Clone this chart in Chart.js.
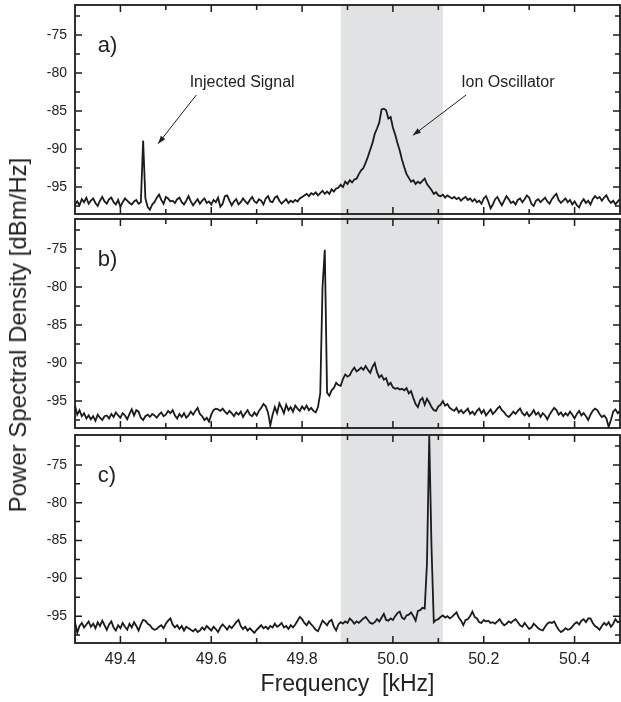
<!DOCTYPE html>
<html>
<head>
<meta charset="utf-8">
<script src="https://cdn.jsdelivr.net/npm/chart.js@4.4.1/dist/chart.umd.min.js"></script>
<style>
  body { margin: 0; background: #fff; }
  #wrap { position: relative; width: 621px; height: 702px; }
  canvas { position: absolute; left: 0; }
  #ytitle {
    position: absolute; left: 18px; top: 335px;
    transform: translate(-50%, -50%) rotate(-90deg);
    font: 24px "Liberation Sans", Arial, sans-serif; line-height: 24px;
    color: #222; white-space: nowrap;
  }
</style>
</head>
<body>
<div id="wrap">
  <canvas id="ca" width="621" height="217" style="top:0"></canvas>
  <canvas id="cb" width="621" height="215" style="top:217px"></canvas>
  <canvas id="cc" width="621" height="270" style="top:432px"></canvas>
  <div id="ytitle">Power Spectral Density [dBm/Hz]</div>
</div>
<script>
// spectra sampled every 5 Hz from 49.300 kHz
const FREQ_START = 49.3;
const FREQ_STEP = 0.005;

const psdA = [
  -97.3,-96.9,-97.4,-96.6,-97.0,-96.4,-97.2,-96.8,-96.5,-97.1,
  -97.5,-96.8,-96.3,-96.9,-97.2,-96.6,-96.4,-97.0,-97.3,-96.7,
  -97.6,-97.0,-96.5,-96.8,-97.1,-97.3,-96.9,-96.7,-97.2,-97.0,
  -88.9,-96.5,-97.6,-98.0,-97.3,-97.0,-96.4,-96.0,-96.7,-97.2,
  -96.3,-96.5,-96.9,-96.8,-97.1,-96.6,-96.4,-97.0,-97.3,-96.8,
  -96.2,-96.9,-97.4,-97.0,-96.6,-97.2,-96.8,-96.5,-97.1,-96.9,
  -97.3,-96.7,-97.0,-96.4,-97.6,-97.2,-96.2,-96.1,-96.8,-97.4,
  -96.9,-96.6,-97.3,-97.0,-96.5,-96.9,-97.2,-96.7,-96.3,-96.9,
  -97.1,-96.6,-96.8,-97.3,-96.5,-96.2,-96.9,-97.0,-96.4,-96.2,
  -96.8,-97.2,-96.9,-96.6,-97.1,-96.8,-97.0,-96.7,-96.9,-96.5,
  -96.3,-96.1,-95.9,-96.2,-95.8,-96.0,-95.7,-96.1,-95.8,-95.5,
  -95.9,-95.6,-95.9,-95.3,-95.6,-95.2,-95.1,-94.7,-95.0,-94.3,
  -94.6,-94.1,-94.4,-94.0,-93.9,-93.3,-92.8,-92.5,-91.8,-91.0,
  -90.1,-89.2,-88.0,-87.3,-86.5,-84.8,-84.7,-84.9,-86.0,-85.8,
  -87.2,-88.1,-89.2,-90.2,-91.4,-92.4,-93.3,-93.8,-94.3,-94.1,
  -94.6,-94.3,-94.5,-94.2,-93.9,-94.6,-95.0,-95.4,-95.9,-95.7,
  -96.1,-96.2,-96.0,-96.4,-96.1,-96.3,-96.5,-96.3,-96.6,-96.4,
  -96.8,-96.5,-96.3,-96.7,-96.5,-96.9,-96.6,-97.0,-96.8,-97.2,
  -96.5,-96.2,-96.9,-97.8,-97.3,-96.6,-96.3,-96.9,-97.4,-96.8,
  -96.2,-96.6,-97.1,-96.9,-97.3,-96.7,-96.5,-97.0,-96.6,-96.1,
  -96.4,-97.2,-97.5,-96.8,-96.6,-97.0,-96.7,-96.4,-96.9,-97.2,
  -96.6,-96.2,-95.9,-96.7,-97.1,-96.8,-96.5,-97.0,-96.7,-97.3,
  -96.9,-97.4,-97.7,-97.0,-96.6,-97.1,-96.8,-97.3,-96.6,-96.2,
  -96.5,-96.3,-96.8,-96.4,-96.1,-96.7,-97.1,-96.8,-97.3,-96.9,
  -96.6
];

const psdB = [
  -95.6,-96.8,-96.2,-97.0,-96.6,-97.3,-96.9,-97.4,-97.0,-97.6,
  -96.8,-97.2,-97.5,-97.0,-96.9,-97.3,-96.7,-97.1,-96.5,-96.9,
  -97.2,-96.6,-96.9,-97.4,-96.7,-96.1,-96.9,-96.2,-96.4,-97.2,
  -97.5,-97.0,-96.8,-97.1,-96.7,-96.9,-97.2,-96.8,-96.5,-97.0,
  -96.8,-96.3,-96.6,-96.2,-96.9,-97.3,-96.7,-97.1,-96.6,-97.2,
  -96.9,-96.4,-96.8,-96.3,-95.9,-96.7,-97.0,-97.5,-97.2,-97.7,
  -96.8,-96.2,-96.0,-96.1,-96.3,-96.0,-96.4,-96.7,-96.3,-96.6,
  -97.0,-96.5,-96.8,-96.4,-97.1,-96.6,-96.2,-96.8,-97.0,-96.5,
  -96.9,-96.3,-95.9,-95.4,-95.7,-96.5,-98.2,-96.8,-95.8,-96.6,
  -95.3,-95.9,-96.6,-95.5,-96.2,-95.8,-96.4,-95.6,-96.0,-96.3,
  -95.7,-96.1,-95.6,-96.2,-95.9,-96.3,-96.5,-95.8,-94.0,-80.0,
  -75.1,-93.9,-94.3,-93.6,-93.3,-92.6,-92.9,-93.0,-92.1,-91.5,
  -91.8,-91.6,-91.0,-90.6,-91.1,-90.9,-90.6,-90.9,-90.4,-90.9,
  -91.3,-90.5,-90.0,-91.2,-91.9,-91.6,-92.2,-92.0,-92.9,-92.6,
  -93.2,-93.4,-93.3,-93.5,-93.4,-93.6,-93.3,-94.0,-93.7,-94.6,
  -95.4,-95.8,-94.9,-94.6,-95.5,-94.7,-95.2,-95.8,-96.2,-96.3,
  -95.7,-95.5,-95.0,-95.6,-95.4,-95.9,-96.1,-96.3,-95.9,-96.5,
  -96.2,-96.6,-96.3,-96.0,-96.7,-96.4,-96.8,-96.3,-96.0,-96.6,
  -96.2,-96.9,-96.5,-96.1,-96.7,-96.4,-96.0,-95.7,-96.2,-96.5,
  -96.9,-97.1,-96.8,-96.4,-96.7,-96.3,-96.0,-96.6,-96.9,-96.5,
  -97.0,-96.7,-96.2,-96.8,-96.5,-97.1,-96.6,-96.9,-97.4,-96.8,
  -96.3,-95.9,-96.2,-96.8,-96.5,-97.0,-96.6,-96.9,-96.4,-96.8,
  -97.3,-96.7,-96.3,-96.9,-96.6,-97.0,-97.5,-96.8,-96.3,-96.0,
  -96.2,-96.7,-97.1,-96.9,-97.3,-98.4,-97.5,-96.4,-96.1,-96.6,
  -96.3
];

const psdC = [
  -95.8,-97.2,-96.3,-95.9,-96.5,-96.1,-95.7,-96.4,-96.0,-96.6,
  -95.8,-96.3,-95.6,-96.2,-96.8,-96.1,-95.7,-96.5,-96.9,-96.2,
  -96.6,-95.9,-96.4,-96.8,-96.0,-96.5,-95.8,-96.3,-96.9,-96.1,
  -95.5,-95.6,-96.0,-96.2,-96.6,-96.8,-96.7,-96.4,-96.2,-96.6,
  -96.0,-95.6,-95.3,-96.1,-96.5,-96.2,-96.7,-96.3,-96.9,-96.4,
  -96.6,-96.8,-97.0,-96.7,-97.1,-96.9,-96.5,-96.8,-96.3,-96.6,
  -96.9,-96.4,-96.7,-97.1,-96.5,-96.1,-96.4,-96.8,-96.3,-96.6,
  -96.2,-95.8,-95.5,-96.3,-96.7,-96.4,-96.9,-96.6,-96.9,-97.2,
  -96.8,-96.5,-96.2,-96.6,-96.4,-96.7,-96.3,-96.5,-96.0,-96.4,
  -96.2,-95.9,-96.5,-96.3,-96.7,-96.2,-96.5,-96.1,-95.6,-95.1,
  -95.4,-95.9,-96.2,-95.7,-96.1,-96.4,-96.8,-97.0,-96.3,-95.6,
  -95.9,-96.2,-95.7,-95.5,-96.4,-96.9,-96.1,-95.8,-96.0,-95.7,
  -95.9,-95.3,-95.6,-96.0,-95.7,-95.9,-95.6,-95.3,-95.1,-95.5,
  -95.9,-96.0,-95.8,-95.4,-95.7,-95.2,-94.7,-95.5,-95.6,-95.3,
  -95.5,-95.0,-94.6,-94.4,-95.2,-95.4,-94.9,-94.8,-94.5,-95.0,
  -95.6,-94.3,-94.2,-93.9,-94.0,-88.0,-71.2,-86.0,-95.8,-95.5,
  -95.4,-95.1,-94.9,-95.2,-95.0,-95.3,-95.1,-94.8,-94.5,-95.2,
  -95.6,-96.2,-95.5,-95.4,-95.0,-94.4,-95.1,-95.3,-95.8,-95.9,
  -95.5,-95.7,-95.6,-95.9,-95.8,-96.0,-95.7,-95.4,-95.9,-96.2,
  -96.0,-95.7,-95.9,-95.6,-95.4,-95.8,-96.2,-96.4,-95.9,-96.3,
  -96.7,-96.5,-96.0,-96.3,-96.6,-96.8,-96.9,-96.4,-96.0,-95.8,
  -95.9,-95.7,-96.3,-96.8,-97.1,-96.9,-96.6,-96.8,-96.7,-96.4,
  -96.0,-95.8,-96.1,-95.6,-95.4,-95.8,-95.3,-95.3,-95.9,-96.3,
  -96.5,-96.8,-96.3,-95.9,-96.2,-95.8,-96.4,-96.0,-95.4,-95.8,
  -95.7
];

const freq = psdA.map((_, i) => +(FREQ_START + i * FREQ_STEP).toFixed(3));

const xRange = [49.3, 50.5];
const yRange = [-98.55, -71.05];
const xMajor = [49.4, 49.6, 49.8, 50.0, 50.2, 50.4];
const xMinor = [49.5, 49.7, 49.9, 50.1, 50.3];
const yMajor = [-95, -90, -85, -80, -75];
const yMinor = [-97.5, -92.5, -87.5, -82.5, -77.5, -72.5];
const band = [49.885, 50.11];          // shaded window, kHz
const panelLabels = ['a)', 'b)', 'c)'];
const notes = [
  { text: 'Injected Signal', x: 49.668, y: -81.8, from: [49.567, -82.9], to: [49.483, -89.3] },
  { text: 'Ion Oscillator',  x: 50.253, y: -81.8, from: [50.161, -82.9], to: [50.044, -88.2] }
];

const FONT = '"Liberation Sans", Arial, sans-serif';
const INK = '#1b1b1b';
const pads = [
  { top: 5, bottom: 3, left: 0, right: 1 },
  { top: 2, bottom: 4, left: 0, right: 1 },
  { top: 3, bottom: 0, left: 0, right: 1 }
];

function panelPlugin(idx) {
  return {
    id: 'panel' + idx,
    beforeDatasetsDraw(chart) {
      const { ctx, chartArea: a, scales: { x } } = chart;
      const top = idx === 0 ? a.top : 0;
      const bottom = idx === 2 ? a.bottom : chart.height;
      const x0 = x.getPixelForValue(band[0]);
      const x1 = x.getPixelForValue(band[1]);
      ctx.save();
      ctx.fillStyle = '#e1e2e4';
      ctx.fillRect(x0, top, x1 - x0, bottom - top);
      ctx.restore();
    },
    afterDraw(chart) {
      const { ctx, chartArea: a, scales: { x, y } } = chart;
      ctx.save();
      ctx.strokeStyle = INK;
      ctx.lineWidth = 1.8;
      ctx.strokeRect(a.left, a.top, a.right - a.left, a.bottom - a.top);

      // inward tick marks on all four sides
      ctx.lineWidth = 1.5;
      ctx.beginPath();
      const xt = (v, len) => {
        const p = x.getPixelForValue(v);
        ctx.moveTo(p, a.bottom); ctx.lineTo(p, a.bottom - len);
        ctx.moveTo(p, a.top); ctx.lineTo(p, a.top + len);
      };
      const yt = (v, len) => {
        const p = y.getPixelForValue(v);
        ctx.moveTo(a.left, p); ctx.lineTo(a.left + len, p);
        ctx.moveTo(a.right, p); ctx.lineTo(a.right - len, p);
      };
      xMajor.forEach(v => xt(v, 7));
      xMinor.forEach(v => xt(v, 5));
      yMajor.forEach(v => yt(v, 7));
      yMinor.forEach(v => yt(v, 5));
      ctx.stroke();

      ctx.fillStyle = '#222';
      ctx.font = '22px ' + FONT;
      ctx.textAlign = 'left';
      ctx.textBaseline = 'alphabetic';
      ctx.fillText(panelLabels[idx], x.getPixelForValue(49.35), y.getPixelForValue(-77.2));

      if (idx === 0) {
        ctx.font = '16px ' + FONT;
        ctx.textAlign = 'center';
        ctx.lineWidth = 1;
        notes.forEach(n => {
          ctx.fillText(n.text, x.getPixelForValue(n.x), y.getPixelForValue(n.y));
          const fx = x.getPixelForValue(n.from[0]), fy = y.getPixelForValue(n.from[1]);
          const tx = x.getPixelForValue(n.to[0]), ty = y.getPixelForValue(n.to[1]);
          ctx.beginPath();
          ctx.moveTo(fx, fy); ctx.lineTo(tx, ty);
          ctx.stroke();
          const ang = Math.atan2(ty - fy, tx - fx);
          ctx.beginPath();
          ctx.moveTo(tx, ty);
          ctx.lineTo(tx - 8 * Math.cos(ang) + 2.8 * Math.sin(ang), ty - 8 * Math.sin(ang) - 2.8 * Math.cos(ang));
          ctx.lineTo(tx - 8 * Math.cos(ang) - 2.8 * Math.sin(ang), ty - 8 * Math.sin(ang) + 2.8 * Math.cos(ang));
          ctx.closePath();
          ctx.fill();
        });
      }
      ctx.restore();
    }
  };
}

function makeChart(id, values, idx) {
  const last = idx === 2;
  return new Chart(document.getElementById(id), {
    type: 'line',
    data: {
      labels: freq,
      datasets: [{
        data: values,
        borderColor: INK,
        borderWidth: 1.8,
        pointRadius: 0,
        tension: 0,
        fill: false
      }]
    },
    options: {
      responsive: false,
      animation: false,
      layout: { padding: pads[idx] },
      plugins: { legend: { display: false }, tooltip: { enabled: false } },
      scales: {
        x: {
          type: 'linear',
          min: xRange[0],
          max: xRange[1],
          display: last,
          afterBuildTicks: s => { s.ticks = [...xMajor, ...xMinor].sort((a, b) => a - b).map(v => ({ value: v })); },
          afterFit: s => { s.height = last ? 59 : 0; s.paddingLeft = 0; s.paddingRight = 0; },
          grid: { display: false, drawTicks: false },
          border: { display: false },
          ticks: {
            autoSkip: false, maxRotation: 0, padding: 7,
            color: '#222', font: { family: FONT, size: 16 },
            callback: v => xMajor.includes(v) ? v.toFixed(1) : ''
          },
          title: {
            display: last, text: 'Frequency  [kHz]',
            color: '#222', font: { family: FONT, size: 23 },
            padding: { top: 2, bottom: 4 }
          }
        },
        y: {
          min: yRange[0],
          max: yRange[1],
          afterFit: s => { s.width = 75; s.paddingTop = 0; s.paddingBottom = 0; },
          afterBuildTicks: s => { s.ticks = [...yMinor, ...yMajor].sort((a, b) => a - b).map(v => ({ value: v })); },
          grid: { display: false, drawTicks: false },
          border: { display: false },
          ticks: {
            autoSkip: false, padding: 8,
            color: '#222', font: { family: FONT, size: 14 },
            callback: v => yMajor.includes(v) ? String(v) : ''
          }
        }
      }
    },
    plugins: [panelPlugin(idx)]
  });
}

makeChart('ca', psdA, 0);
makeChart('cb', psdB, 1);
makeChart('cc', psdC, 2);
</script>
</body>
</html>
